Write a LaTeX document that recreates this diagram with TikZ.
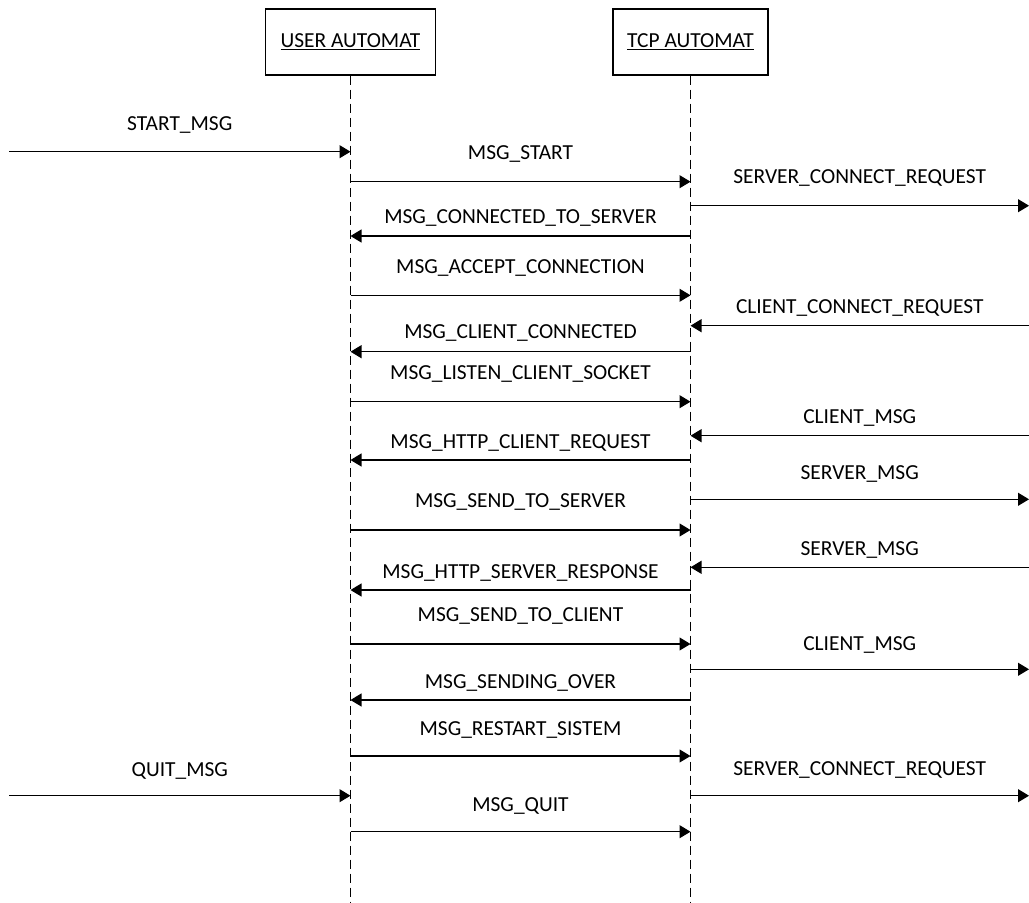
\documentclass[tikz,border=0pt]{standalone}
\usepackage{fontspec}
\setmainfont{Carlito}
\usetikzlibrary{arrows.meta}

\begin{document}
\begin{tikzpicture}[x=1bp,y=-1bp,
  txt/.style={font=\fontsize{21.5}{25}\selectfont},
  actor/.style={txt, draw, line width=1.2bp, minimum height=66bp, inner sep=0pt},
  life/.style={line width=1bp, dash pattern=on 9bp off 5bp},
  msg/.style={line width=1.1bp, -{Triangle[length=11bp,width=13bp]}},
  lbl/.style={txt, anchor=base, inner sep=0pt}]

  % canvas
  \useasboundingbox (0,0) rectangle (1029,903);

  % participants
  \node[actor, minimum width=170bp] (user) at (350.5,42) {\underline{USER AUTOMAT}};
  \node[actor, minimum width=155bp] (tcp)  at (690.5,42) {\underline{TCP AUTOMAT}};

  % lifelines
  \coordinate (userEnd) at (350.5,903);
  \coordinate (tcpEnd)  at (690.5,903);
  \draw[life] (user.south) -- (userEnd);
  \draw[life] (tcp.south)  -- (tcpEnd);

  % anchor points on the lifelines, one per message
  \foreach \i/\y in {1/151.7, 2/181.7, 3/205.7, 4/236, 5/295.3, 6/325.7, 7/351.7,
                     8/401.7, 9/435.7, 10/460, 11/499.3, 12/530, 13/567.3, 14/590,
                     15/644, 16/669.3, 17/700, 18/756, 19/795.7, 21/831.7} {
    \coordinate (u\i) at (350.5,\y);
    \coordinate (t\i) at (690.5,\y);
  }

  % outer ends of the environment messages
  \coordinate (envL1)  at (9,151.7);
  \coordinate (envL19) at (9,795.7);
  \coordinate (envR3)  at (1029,205.7);
  \coordinate (envR6)  at (1029,325.7);
  \coordinate (envR9)  at (1029,435.7);
  \coordinate (envR11) at (1029,499.3);
  \coordinate (envR13) at (1029,567.3);
  \coordinate (envR16) at (1029,669.3);
  \coordinate (envR19) at (1029,795.7);

  % messages
  \draw[msg] (envL1) -- node[lbl, yshift=21.6bp] {START\_MSG} (u1);
  \draw[msg] (u2) -- node[lbl, yshift=21.9bp] {MSG\_START} (t2);
  \draw[msg] (t3) -- node[lbl, yshift=22.2bp] {SERVER\_CONNECT\_REQUEST} (envR3);
  \draw[msg] (t4) -- node[lbl, yshift=12.5bp] {MSG\_CONNECTED\_TO\_SERVER} (u4);
  \draw[msg] (u5) -- node[lbl, yshift=21.8bp] {MSG\_ACCEPT\_CONNECTION} (t5);
  \draw[msg] (envR6) -- node[lbl, yshift=12.2bp] {CLIENT\_CONNECT\_REQUEST} (t6);
  \draw[msg] (t7) -- node[lbl, yshift=12.9bp] {MSG\_CLIENT\_CONNECTED} (u7);
  \draw[msg] (u8) -- node[lbl, yshift=22.2bp] {MSG\_LISTEN\_CLIENT\_SOCKET} (t8);
  \draw[msg] (envR9) -- node[lbl, yshift=12.2bp] {CLIENT\_MSG} (t9);
  \draw[msg] (t10) -- node[lbl, yshift=11.5bp] {MSG\_HTTP\_CLIENT\_REQUEST} (u10);
  \draw[msg] (t11) -- node[lbl, yshift=19.8bp] {SERVER\_MSG} (envR11);
  \draw[msg] (u12) -- node[lbl, yshift=22.5bp] {MSG\_SEND\_TO\_SERVER} (t12);
  \draw[msg] (envR13) -- node[lbl, yshift=12.2bp] {SERVER\_MSG} (t13);
  \draw[msg] (t14) -- node[lbl, yshift=11.5bp] {MSG\_HTTP\_SERVER\_RESPONSE} (u14);
  \draw[msg] (u15) -- node[lbl, yshift=22.2bp] {MSG\_SEND\_TO\_CLIENT} (t15);
  \draw[msg] (t16) -- node[lbl, yshift=19.2bp] {CLIENT\_MSG} (envR16);
  \draw[msg] (t17) -- node[lbl, yshift=11.5bp] {MSG\_SENDING\_OVER} (u17);
  \draw[msg] (u18) -- node[lbl, yshift=20.9bp] {MSG\_RESTART\_SISTEM} (t18);
  \draw[msg] (envL19) -- node[lbl, yshift=19.6bp] {QUIT\_MSG} (u19);
  \draw[msg] (t19) -- node[lbl, yshift=20.6bp] {SERVER\_CONNECT\_REQUEST} (envR19);
  \draw[msg] (u21) -- node[lbl, yshift=20.6bp] {MSG\_QUIT} (t21);
\end{tikzpicture}
\end{document}
